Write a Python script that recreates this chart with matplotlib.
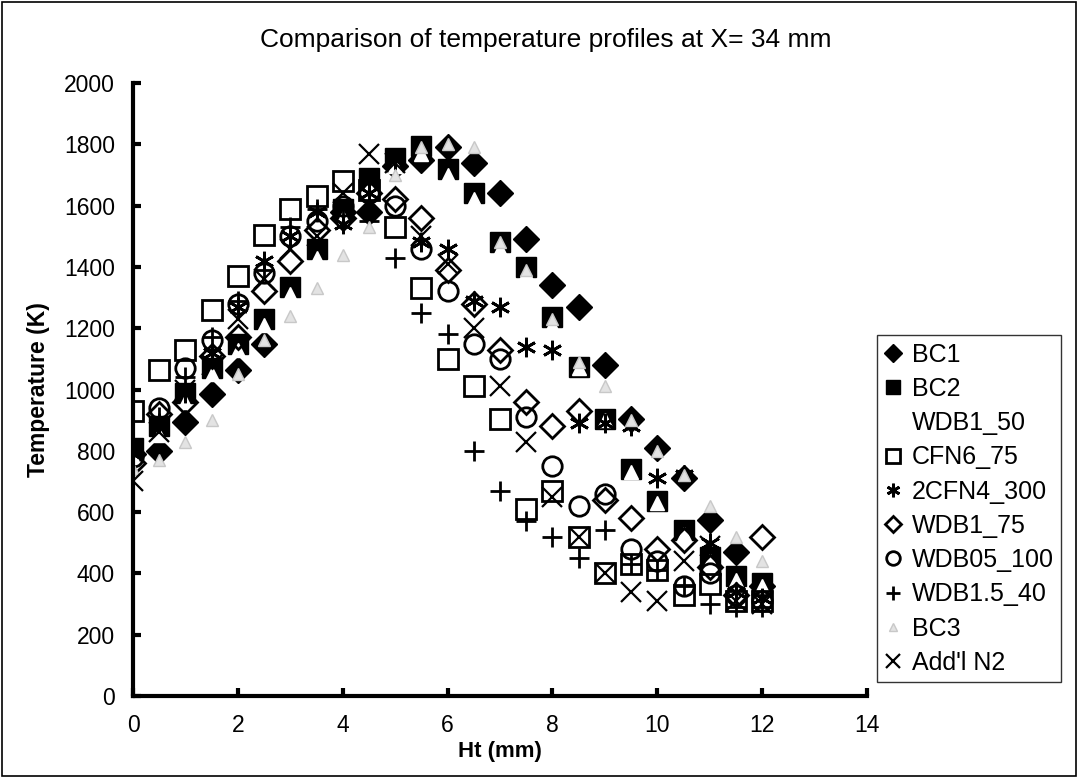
import numpy as np
import matplotlib
matplotlib.use("Agg")
import matplotlib.pyplot as plt
from matplotlib.patches import Rectangle

plt.rcParams['font.family'] = ['Liberation Sans', 'DejaVu Sans']

# Heights (mm)
ht = [0, 0.5, 1, 1.5, 2, 2.5, 3, 3.5, 4, 4.5, 5, 5.5, 6,
      6.5, 7, 7.5, 8, 8.5, 9, 9.5, 10, 10.5, 11, 11.5, 12]

nan = np.nan

# Temperatures (K)
bc1 = [790, 800, 895, 985, 1065, 1150, nan, nan, 1580, 1580, 1730, 1750, 1790,
       1740, 1640, 1490, 1340, 1270, 1080, 905, 810, 710, 575, 470, 360]
bc2 = [810, 880, 990, 1070, 1150, 1230, 1335, 1460, 1590, 1690, 1755, 1795, 1720,
       1640, 1480, 1400, 1235, 1075, 905, 740, 635, 540, 455, 390, 370]
wdb1_50 = [780, 850, 960, 1050, 1130, 1210, 1310, 1430, 1560, 1660, 1730, 1770, 1700,
           1620, 1460, 1380, 1210, 1070, 900, 730, 630, 530, 440, 380, 360]
cfn6_75 = [930, 1065, 1130, 1260, 1370, 1505, 1590, 1630, 1680, 1650, 1530, 1330, 1100,
           1010, 905, 610, 670, 520, 400, 430, 410, 330, 365, 310, 310]
cfn4_300 = [790, 890, 990, 1120, 1270, 1420, 1500, 1580, 1540, 1640, 1750, 1480, 1460,
            1290, 1270, 1140, 1130, 890, 890, 880, 710, 720, 500, 340, 320]
wdb1_75 = [760, 920, 960, 1110, 1170, 1320, 1420, 1520, 1560, 1640, 1620, 1560, 1390,
           1280, 1130, 960, 880, 930, 640, 580, 480, 510, 420, 330, 520]
wdb05_100 = [780, 940, 1070, 1160, 1280, 1380, 1500, 1550, 1600, 1640, 1600, 1460, 1320,
             1150, 1100, 910, 750, 620, 660, 480, 440, 360, 400, 330, 310]
wdb15_40 = [790, 910, 1040, 1170, 1290, 1390, 1530, 1590, 1590, 1550, 1430, 1250, 1180,
            800, 670, 570, 520, 450, 540, 430, 410, 360, 300, 290, 290]
bc3 = [740, 770, 830, 900, 1050, 1160, 1240, 1330, 1440, 1530, 1700, 1790, 1800,
       1790, 1480, 1390, 1230, 1090, 1010, 900, 800, 720, 620, 520, 440]
addl_n2 = [700, 860, 1000, 1080, 1230, 1360, 1460, 1500, 1640, 1770, 1740, 1500, 1410,
           1200, 1010, 830, 650, 520, 400, 340, 310, 440, 490, 310, 300]

fig = plt.figure(figsize=(10.78, 7.78), dpi=100)
ax = fig.add_axes([0.1234, 0.1054, 0.6809, 0.7879])

k = dict(linestyle='none', markersize=14)
ax.plot(ht, bc1, marker='D', color='black', markersize=13, linestyle='none', label='BC1')
ax.plot(ht, bc2, marker='s', color='black', label='BC2', **k)
ax.plot(ht, wdb1_50, marker='^', markerfacecolor='white', markeredgecolor='white',
        linestyle='none', markersize=10, label='WDB1_50')
ax.plot(ht, cfn6_75, marker='s', markerfacecolor='none', markeredgecolor='black',
        markeredgewidth=2, label='CFN6_75', **k)
ax.plot(ht, cfn4_300, marker=(6, 2, 0), color='black', markeredgewidth=2,
        label='2CFN4_300', **k)
ax.plot(ht, wdb1_75, marker='D', markerfacecolor='none', markeredgecolor='black',
        markeredgewidth=2, markersize=12, linestyle='none', label='WDB1_75')
ax.plot(ht, wdb05_100, marker='o', markerfacecolor='none', markeredgecolor='black',
        markeredgewidth=2, label='WDB05_100', **k)
ax.plot(ht, wdb15_40, marker='+', color='black', markeredgewidth=2, label='WDB1.5_40', **k)
ax.plot(ht, bc3, marker='^', markerfacecolor='#e3e3e3', markeredgecolor='#c8c8c8',
        markersize=9, linestyle='none', label='BC3')
ax.plot(ht, addl_n2, marker='x', color='black', markeredgewidth=1.6, label="Add'l N2", **k)

ax.set_xlim(0, 14)
ax.set_ylim(0, 2000)
ax.set_xticks(np.arange(0, 15, 2))
ax.set_yticks(np.arange(0, 2001, 200))
ax.spines['top'].set_visible(False)
ax.spines['right'].set_visible(False)
ax.spines['left'].set_linewidth(3)
ax.spines['bottom'].set_linewidth(3)
ax.tick_params(direction='in', length=6, width=3, labelsize=16.5, pad=13)
ax.set_xlabel('Ht (mm)', fontsize=16, fontweight='bold', labelpad=3)
ax.set_ylabel('Temperature (K)', fontsize=16.5, fontweight='bold', labelpad=10)
fig.text(0.5065, 0.949, 'Comparison of temperature profiles at X= 34 mm',
         fontsize=19, ha='center', va='center')

leg = fig.legend(loc='upper left', bbox_to_anchor=(0.8135, 0.5694), fontsize=18,
                 frameon=True, fancybox=False, edgecolor='black', handletextpad=0.4,
                 handlelength=0.7, labelspacing=0.41, borderpad=0.3, borderaxespad=0,
                 markerscale=0.7)
leg.get_frame().set_linewidth(1)

fig.patches.append(Rectangle((0.002, 0.002), 0.996, 0.996, transform=fig.transFigure,
                             fill=False, edgecolor='black', linewidth=1.2))

fig.savefig('out.png', dpi=100)
